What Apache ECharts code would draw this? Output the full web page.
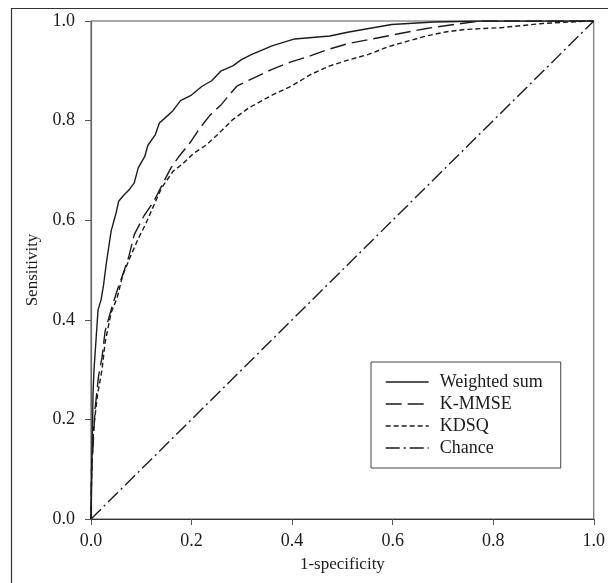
<!DOCTYPE html>
<html>
<head>
<meta charset="utf-8">
<script src="https://cdn.jsdelivr.net/npm/echarts@6/dist/echarts.min.js"></script>
<style>
html,body{margin:0;padding:0;background:#fff;}
#chart{width:608px;height:583px;}
</style>
</head>
<body>
<div id="chart"></div>
<script>
// ---- Data ----
var xTicks = [0.0, 0.2, 0.4, 0.6, 0.8, 1.0];
var yTicks = [0.0, 0.2, 0.4, 0.6, 0.8, 1.0];
var seriesNames = ['Weighted sum', 'K-MMSE', 'KDSQ', 'Chance'];

var fprWeighted = [0, 0.002, 0.004, 0.006, 0.010, 0.014, 0.020, 0.025, 0.030, 0.040, 0.050, 0.055, 0.065, 0.075, 0.086, 0.094, 0.107, 0.113, 0.128, 0.136, 0.148, 0.163, 0.178, 0.198, 0.221, 0.240, 0.259, 0.282, 0.300, 0.320, 0.360, 0.405, 0.475, 0.513, 0.598, 0.682, 0.780, 1.0];
var tprWeighted = [0, 0.12, 0.25, 0.30, 0.36, 0.42, 0.44, 0.47, 0.51, 0.578, 0.615, 0.638, 0.650, 0.660, 0.675, 0.705, 0.728, 0.750, 0.772, 0.795, 0.806, 0.820, 0.840, 0.850, 0.869, 0.880, 0.900, 0.910, 0.923, 0.933, 0.950, 0.964, 0.970, 0.978, 0.993, 0.998, 1.0, 1.0];

var fprKMMSE = [0, 0.001, 0.004, 0.008, 0.015, 0.022, 0.028, 0.040, 0.052, 0.065, 0.075, 0.086, 0.105, 0.125, 0.140, 0.159, 0.175, 0.198, 0.213, 0.236, 0.259, 0.290, 0.320, 0.360, 0.398, 0.436, 0.475, 0.513, 0.590, 0.667, 0.744, 0.775, 1.0];
var tprKMMSE = [0, 0.10, 0.145, 0.22, 0.287, 0.325, 0.377, 0.420, 0.459, 0.496, 0.526, 0.571, 0.608, 0.638, 0.668, 0.705, 0.728, 0.757, 0.780, 0.810, 0.832, 0.869, 0.884, 0.903, 0.918, 0.930, 0.944, 0.955, 0.970, 0.985, 0.996, 1.0, 1.0];

var fprKDSQ = [0, 0.001, 0.005, 0.013, 0.022, 0.028, 0.040, 0.052, 0.063, 0.078, 0.094, 0.109, 0.125, 0.140, 0.163, 0.182, 0.205, 0.228, 0.252, 0.282, 0.313, 0.360, 0.398, 0.436, 0.475, 0.513, 0.552, 0.590, 0.628, 0.667, 0.705, 0.744, 0.820, 0.898, 0.990, 1.0];
var tprKDSQ = [0, 0.08, 0.18, 0.25, 0.30, 0.354, 0.414, 0.444, 0.489, 0.526, 0.563, 0.593, 0.630, 0.664, 0.698, 0.713, 0.735, 0.750, 0.772, 0.802, 0.825, 0.851, 0.869, 0.892, 0.910, 0.922, 0.933, 0.948, 0.959, 0.970, 0.978, 0.983, 0.987, 0.995, 1.0, 1.0];

var fprChance = [0, 1];
var tprChance = [0, 1];

function zip(a, b) { return a.map(function (v, i) { return [v, b[i]]; }); }

var FONT = 'Liberation Serif';
var INK = '#1c1c1c';

var chart = echarts.init(document.getElementById('chart'), null, {renderer: 'canvas'});

function lineSeries(name, xs, ys, dash) {
  return {
    name: name,
    type: 'line',
    data: zip(xs, ys),
    showSymbol: false,
    symbol: 'none',
    smooth: false,
    animation: false,
    lineStyle: { color: INK, width: 1.4, type: dash },
    itemStyle: { color: INK },
    z: 3
  };
}

var option = {
  backgroundColor: '#fff',
  animation: false,
  graphic: [{
    type: 'rect',
    left: 9, top: 6,
    shape: { width: 700, height: 700 },
    style: { fill: 'none', stroke: '#333', lineWidth: 1.2 },
    silent: true, z: 0
  }],
  grid: { left: 91, top: 21, right: 14, bottom: 64, show: true, borderColor: '#555', borderWidth: 1 },
  xAxis: {
    type: 'value', min: xTicks[0], max: xTicks[xTicks.length - 1], interval: 0.2,
    name: '1-specificity', nameLocation: 'middle', nameGap: 37,
    nameTextStyle: { fontFamily: FONT, fontSize: 17, color: INK },
    axisLine: { show: true, lineStyle: { color: '#333', width: 1.2 } },
    axisTick: { show: true, inside: false, length: 6, lineStyle: { color: '#555' } },
    axisLabel: { fontFamily: FONT, fontSize: 18, color: INK, margin: 13, formatter: function (v) { return v.toFixed(1); } },
    splitLine: { show: false }
  },
  yAxis: {
    type: 'value', min: yTicks[0], max: yTicks[yTicks.length - 1], interval: 0.2,
    name: 'Sensitivity', nameLocation: 'middle', nameGap: 50,
    nameTextStyle: { fontFamily: FONT, fontSize: 17, color: INK },
    axisLine: { show: true, lineStyle: { color: '#666', width: 1.2 } },
    axisTick: { show: true, inside: false, length: 6, lineStyle: { color: '#555' } },
    axisLabel: { fontFamily: FONT, fontSize: 18, color: INK, margin: 16, formatter: function (v) { return v.toFixed(1); } },
    splitLine: { show: false }
  },
  legend: {
    data: seriesNames,
    orient: 'vertical',
    left: 371, top: 362,
    padding: [11, 18, 11, 14],
    itemWidth: 43, itemHeight: 12,
    itemGap: 4,
    borderColor: '#444', borderWidth: 1,
    backgroundColor: '#fff',
    itemStyle: { opacity: 0 },
    lineStyle: { color: INK, width: 1.4, type: 'inherit' },
    textStyle: { fontFamily: FONT, fontSize: 18, color: INK, lineHeight: 18, padding: [0, 0, 0, 6] },
    selectedMode: false
  },
  series: [
    lineSeries(seriesNames[0], fprWeighted, tprWeighted, 'solid'),
    lineSeries(seriesNames[1], fprKMMSE, tprKMMSE, [16, 6]),
    lineSeries(seriesNames[2], fprKDSQ, tprKDSQ, [5, 3]),
    lineSeries(seriesNames[3], fprChance, tprChance, [14, 4, 2, 4])
  ]
};
chart.setOption(option);
</script>
</body>
</html>
